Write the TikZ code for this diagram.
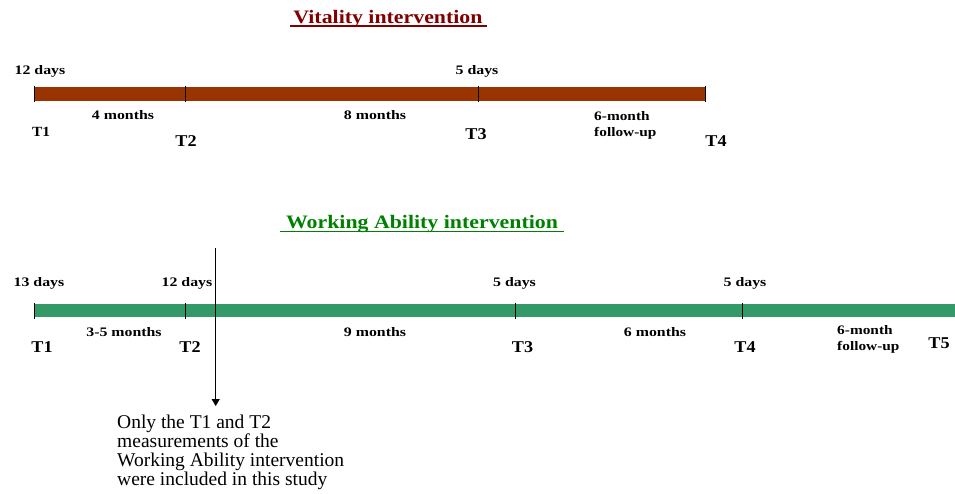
\documentclass[tikz,border=0pt]{standalone}
\usepackage{fontspec}
\setmainfont{Liberation Serif}
\usetikzlibrary{arrows.meta}
\definecolor{vitred}{RGB}{128,0,0}
\definecolor{vitbar}{RGB}{153,51,0}
\definecolor{wagreen}{RGB}{0,128,0}
\definecolor{wabar}{RGB}{51,153,102}
\tikzset{
  lbl/.style={inner sep=0pt, anchor=base, font=\fontsize{13}{13}\selectfont\bfseries, xscale=1.22},
  tbig/.style={inner sep=0pt, anchor=base, font=\fontsize{16.5}{16.5}\selectfont\bfseries, xscale=1.1},
  tsmall/.style={inner sep=0pt, anchor=base, font=\fontsize{14}{14}\selectfont\bfseries, xscale=1.1},
  ttl/.style={inner sep=0pt, anchor=base, font=\fontsize{19}{19}\selectfont\bfseries, xscale=1.15},
  fup/.style={inner sep=0pt, anchor=base west, align=left, font=\fontsize{13}{15.5}\selectfont\bfseries, xscale=1.18},
  tick/.style={draw=black, line width=0.8pt},
}
\begin{document}
\begin{tikzpicture}[x=1pt,y=-1pt]
\useasboundingbox (0,0) rectangle (955,493);

% ---- Vitality intervention ----
\node[ttl, text=vitred] (vtitle) at (388,23) {Vitality intervention};
\draw[vitred, line width=1.8pt] (290,26) -- (487,26);

\fill[vitbar] (34,87) rectangle (705,101);
\foreach \n/\x in {v1/34, v2/185, v3/478, v4/705}{
  \coordinate (\n) at (\x,94);
  \draw[tick] (\x,85.5) -- (\x,102);
}

\node[lbl] (vd1) at (40,74) {12 days};
\node[lbl] (vd3) at (477,74) {5 days};
\node[lbl] (vm1) at (123,119) {4 months};
\node[lbl] (vm2) at (375,119) {8 months};
% base anchor of a two-line node sits on its last line
\node[fup] (vfu) at (594,136) {6-month\\follow-up};
\node[tsmall] (vt1) at (41,136) {T1};
\node[tbig] (vt2) at (186,146.5) {T2};
\node[tbig] (vt3) at (476,139) {T3};
\node[tbig] (vt4) at (716,146) {T4};

% ---- Working Ability intervention ----
\node[ttl, text=wagreen] (wtitle) at (422,228) {Working Ability intervention};
\draw[wagreen, line width=1.8pt] (280,231.5) -- (564,231.5);

\fill[wabar] (34,304) rectangle (955,317);
\foreach \n/\x in {w1/34, w2/185, w3/515.5, w4/742}{
  \coordinate (\n) at (\x,310.5);
  \draw[tick] (\x,302.5) -- (\x,318.5);
}

\node[lbl] (wd1) at (39,286) {13 days};
\node[lbl] (wd2) at (187,286) {12 days};
\node[lbl] (wd3) at (514.5,286) {5 days};
\node[lbl] (wd4) at (745,286) {5 days};
\node[lbl] (wm1) at (124,336) {3-5 months};
\node[lbl] (wm2) at (375,336) {9 months};
\node[lbl] (wm3) at (655,336) {6 months};
\node[fup] (wfu) at (837,350) {6-month\\follow-up};
\node[tbig] (wt1) at (42,352) {T1};
\node[tbig] (wt2) at (190,352) {T2};
\node[tbig] (wt3) at (522.5,352) {T3};
\node[tbig] (wt4) at (745,352) {T4};
\node[tbig] (wt5) at (939,348.5) {T5};

% ---- note on the included measurements ----
\coordinate (cut) at (215.7,248);
\node[inner sep=0pt, anchor=north west, align=left,
      font=\fontsize{19.5}{19}\selectfont] (note) at (117,415)
  {Only the T1 and T2\\measurements of the\\Working Ability intervention\\were included in this study};
\draw[line width=0.8pt, -{Triangle[length=7pt,width=8pt]}] (cut) -- (215.7,406);
\end{tikzpicture}
\end{document}
